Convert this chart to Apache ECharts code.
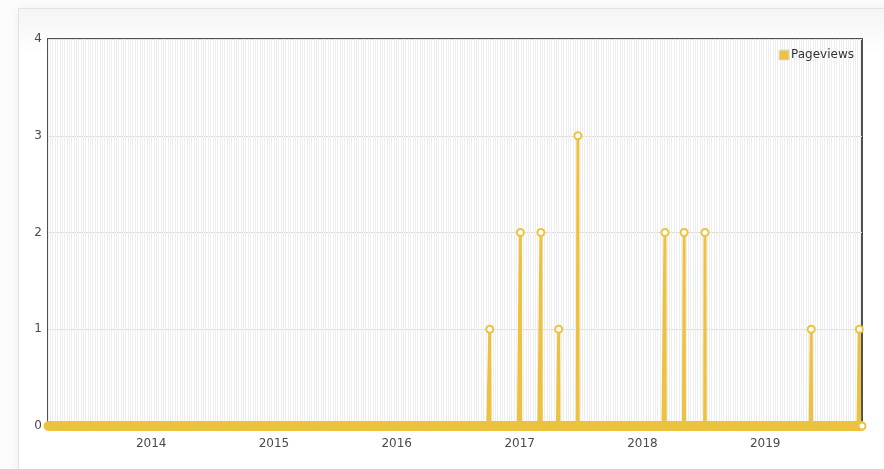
<!DOCTYPE html>
<html>
<head>
<meta charset="utf-8">
<script src="https://cdn.jsdelivr.net/npm/echarts@6/dist/echarts.min.js"></script>
<style>
  html, body { margin: 0; padding: 0; width: 884px; height: 469px; background: #fcfcfc; overflow: hidden; }
  #card { position: absolute; left: 18px; top: 8px; width: 900px; height: 500px;
          background: linear-gradient(#f5f5f5, #ffffff 45px);
          border: 1px solid #e3e3e3; box-shadow: 0 0 10px rgba(0,0,0,0.06); }
  #chart { position: absolute; left: 0; top: 0; width: 884px; height: 469px; }
</style>
</head>
<body>
<div id="card"></div>
<div id="chart"></div>
<script>
// Date range of the daily series (every day outside the listed dates has 0 pageviews)
const startDate = '2013-02-28';
const endDate = '2019-10-16';
// Days with pageviews and their counts
const spikeDates = ['2016-10-04', '2017-01-03', '2017-03-05', '2017-04-27', '2017-06-23',
                    '2018-03-09', '2018-05-05', '2018-07-06', '2019-05-18', '2019-10-08'];
const spikeValues = [1, 2, 2, 1, 3, 2, 2, 2, 1, 1];
const yTicks = [0, 1, 2, 3, 4];
const seriesName = 'Pageviews';

function fmt(d) {
  return d.toISOString().slice(0, 10);
}
const lookup = {};
spikeDates.forEach((d, i) => { lookup[d] = spikeValues[i]; });
const days = [];
const values = [];
for (let t = Date.parse(startDate + 'T00:00:00Z'); t <= Date.parse(endDate + 'T00:00:00Z'); t += 86400000) {
  const s = fmt(new Date(t));
  days.push(s);
  values.push(lookup[s] !== undefined ? lookup[s] : 0);
}

const chart = echarts.init(document.getElementById('chart'), null, { renderer: 'canvas' });
const textColor = '#4a4a4a';
chart.setOption({
  backgroundColor: 'transparent',
  animation: false,
  textStyle: { fontFamily: 'DejaVu Sans' },
  grid: { left: 48, right: 22, top: 39, bottom: 43, show: true, borderColor: '#505050', borderWidth: 2, backgroundColor: '#ffffff' },
  legend: {
    data: [seriesName], right: 25, top: 44, icon: 'rect', itemWidth: 10, itemHeight: 10, itemGap: 2,
    textStyle: { color: '#333', fontSize: 12, fontFamily: 'DejaVu Sans', padding: [0, 0, 0, -3] },
    itemStyle: { color: '#edc240', borderColor: '#dddddd', borderWidth: 1 }
  },
  xAxis: {
    type: 'category',
    data: days,
    boundaryGap: false,
    axisLine: { show: true, lineStyle: { color: '#505050', width: 2 } },
    axisTick: { show: false },
    axisLabel: {
      interval: (idx, val) => val.slice(5) === '01-01',
      formatter: (val) => val.slice(0, 4),
      color: textColor, fontSize: 12, margin: 12, fontFamily: 'DejaVu Sans'
    },
    splitLine: { show: true, interval: (idx) => idx % 7 === 0, lineStyle: { color: '#eeeeee', width: 1 } }
  },
  yAxis: {
    type: 'value', min: yTicks[0], max: yTicks[yTicks.length - 1], interval: 1,
    axisLine: { show: false }, axisTick: { show: false },
    axisLabel: { color: textColor, fontSize: 12, margin: 6, fontFamily: 'DejaVu Sans' },
    splitLine: { show: true, lineStyle: { color: '#d9d9d9', width: 1 } }
  },
  series: [{
    name: seriesName,
    type: 'line',
    data: values,
    symbol: 'emptyCircle',
    symbolSize: 7,
    showSymbol: true,
    showAllSymbol: true,
    clip: false,
    lineStyle: { color: '#edc240', width: 3 },
    itemStyle: { color: '#edc240', borderColor: '#edc240', borderWidth: 2.5 }
  }]
});
</script>
</body>
</html>
